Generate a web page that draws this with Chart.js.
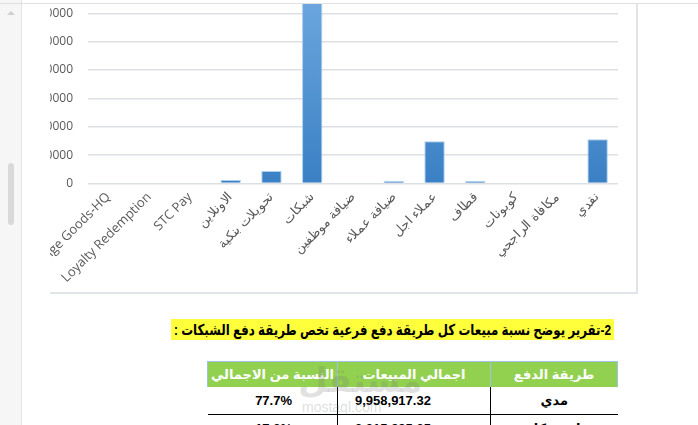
<!DOCTYPE html>
<html>
<head>
<meta charset="utf-8">
<script src="https://cdn.jsdelivr.net/npm/chart.js@4.4.0/dist/chart.umd.min.js"></script>
<style>
  body { margin: 0; width: 698px; height: 425px; overflow: hidden; background: #fff; position: relative; font-family: 'Liberation Sans', 'DejaVu Sans', sans-serif; }
  .abs { position: absolute; }
  #side { left: 0; top: 0; width: 21px; height: 425px; background: #f6f6f6; border-right: 1px solid #e4e4e4; }
  #thumb { left: 8px; top: 163px; width: 6px; height: 62px; background: #d9d9d9; border-radius: 3px; }
  #arrow { left: 7px; top: 11px; width: 0; height: 0; border-left: 4px solid transparent; border-right: 4px solid transparent; border-bottom: 4px solid #cfcfcf; }
  #topline { left: 0; top: 3px; width: 698px; height: 1px; background: #e0e0e0; }
  #clip { left: 50px; top: 4px; width: 586px; height: 288px; overflow: hidden; border-right: 2px solid #e1e4e8; border-bottom: 2px solid #e1e4e8; }
  #myChart { position: absolute; left: -50px; top: -44px; }
  #heading { left: 171px; top: 319px; width: 443px; height: 21px; background: #ffff3b; overflow: hidden; }
  #headText { position: absolute; right: 3px; top: 0; direction: rtl; font-weight: bold; font-size: 15px; line-height: 21px; white-space: nowrap; transform-origin: right center; }
  table { position: absolute; left: 207px; top: 361px; border-collapse: collapse; direction: rtl; table-layout: fixed; }
  th { background: #92d050; color: #fff; font-weight: bold; font-size: 13px; height: 25px; padding: 0; border-left: 1px solid #9dc3e6; border-right: 1px solid #9dc3e6; border-top: 1px solid #9dc3e6; }
  td { height: 27px; padding: 0; border-bottom: 1px solid #000; font-size: 13px; }
  td.mid { border-left: 1px solid #000; border-right: 1px solid #000; }
  #wm1 { left: 298px; top: 360px; font-size: 34px; font-weight: bold; color: rgba(120,120,120,0.22); direction: rtl; }
  #wm2 { left: 302px; top: 399px; font-size: 14px; color: rgba(120,120,120,0.25); }
</style>
</head>
<body>
<div id="side" class="abs"></div>
<div id="thumb" class="abs"></div>
<div id="arrow" class="abs"></div>
<div id="topline" class="abs"></div>
<div id="clip" class="abs">
  <canvas id="myChart" width="640" height="340"></canvas>
</div>
<div id="heading" class="abs"><span id="headText">2-تقرير يوضح نسبة مبيعات كل طريقة دفع فرعية تخص طريقة دفع الشبكات :</span></div>
<table>
  <tr>
    <th style="width:126px">طريقة الدفع</th>
    <th style="width:152px">اجمالي المبيعات</th>
    <th style="width:129px">النسبة من الاجمالي</th>
  </tr>
  <tr>
    <td style="text-align:center;font-weight:bold">مدي</td>
    <td class="mid" style="direction:ltr;text-align:left;padding-left:17px;font-weight:bold">9,958,917.32</td>
    <td style="direction:ltr;text-align:right;padding-right:45px;font-weight:bold">77.7%</td>
  </tr>
  <tr>
    <td style="text-align:center;font-weight:bold">ماستر كارد</td>
    <td class="mid" style="direction:ltr;text-align:left;padding-left:17px;font-weight:bold">2,215,995.35</td>
    <td style="direction:ltr;text-align:right;padding-right:45px;font-weight:bold">17.3%</td>
  </tr>
</table>
<div id="wm1" class="abs">مستقل</div>
<div id="wm2" class="abs">mostaql.com</div>

<script>
const methods = ['Exchange Goods-HQ', 'Loyalty Redemption', 'STC Pay', 'الاونلاين', 'تحويلات بنكية', 'شبكات', 'ضيافة موظفين', 'ضيافة عملاء', 'عملاء اجل', 'قطاف', 'كوبونات', 'مكافاة الراجحي', 'نقدي'];
const sales = [0, 0, 0, 250000, 880000, 12817000, 0, 170000, 2980000, 170000, 0, 0, 3120000];
const yTicks = [0, 2000000, 4000000, 6000000, 8000000, 10000000, 12000000, 14000000];

const tickColor = '#595959';
const gridColor = '#dcdfe4';

// squeeze heading text so it fits inside the yellow highlight
const head = document.getElementById('headText');
const w = head.getBoundingClientRect().width;
if (w > 437) head.style.transform = 'scaleX(' + (437 / w) + ')';

const ctx = document.getElementById('myChart').getContext('2d');

const myBarChart = new Chart(ctx, {
    type: 'bar',
    data: {
        labels: methods,
        datasets: [{
            data: sales,
            backgroundColor: (c) => {
                const area = c.chart.chartArea;
                if (!area) return '#4a8fd5';
                const g = c.chart.ctx.createLinearGradient(0, area.bottom, 0, area.top);
                g.addColorStop(0, '#3a80c4');
                g.addColorStop(1, '#6fa9e0');
                return g;
            },
            borderColor: 'rgba(160, 200, 235, 0.9)',
            borderWidth: 1,
            categoryPercentage: 1,
            barPercentage: 0.5
        }]
    },
    options: {
        responsive: false,
        maintainAspectRatio: false,
        animation: false,
        layout: {
            padding: {top: 25, right: 22, bottom: 0, left: 0}
        },
        scales: {
            x: {
                grid: {display: false},
                border: {display: false},
                ticks: {
                    color: tickColor,
                    font: {family: 'Open Sans', size: 13},
                    minRotation: 45,
                    maxRotation: 45,
                    autoSkip: false,
                    padding: -2
                },
                afterFit: (s) => { s.height = 116.5; }
            },
            y: {
                min: 0,
                max: 14000000,
                afterBuildTicks: (s) => { s.ticks = yTicks.map(v => ({value: v})); },
                grid: {color: gridColor, lineWidth: 1.5, drawTicks: false},
                border: {display: false},
                ticks: {
                    color: tickColor,
                    font: {family: 'Open Sans', size: 12},
                    padding: 15,
                    callback: (v) => String(v)
                },
                afterFit: (s) => { s.width = 88; }
            }
        },
        plugins: {
            legend: {display: false},
            tooltip: {enabled: false}
        }
    }
});
</script>
</body>
</html>
